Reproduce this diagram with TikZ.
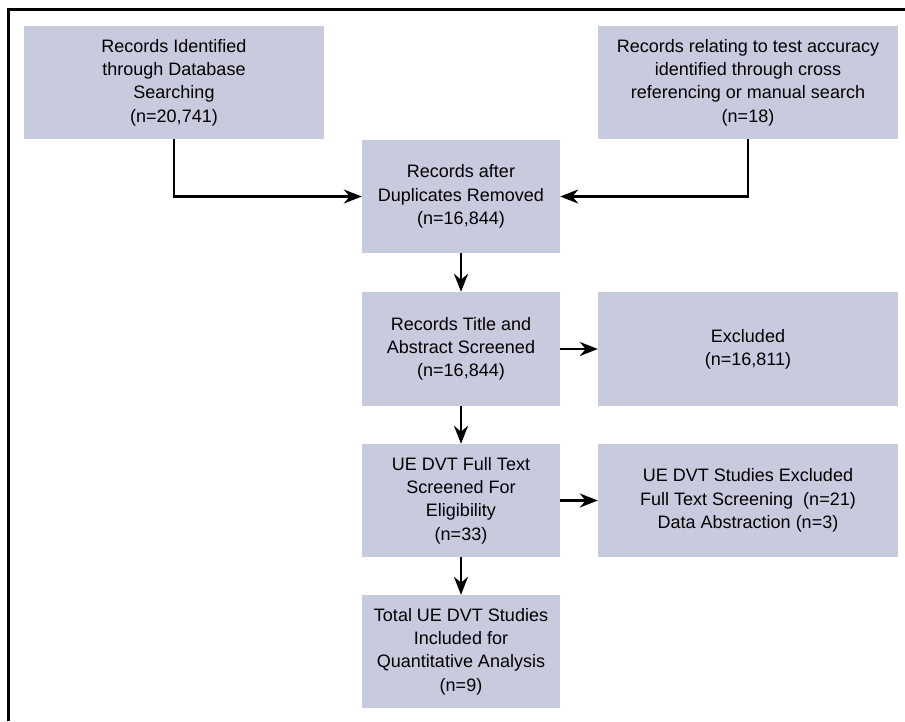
\documentclass[tikz,border=0pt]{standalone}
\usepackage{fontspec}
\setmainfont{Liberation Sans}
\usetikzlibrary{arrows.meta}
\definecolor{boxfill}{RGB}{200,202,222}
\begin{document}
\begin{tikzpicture}[x=1pt,y=-1pt,
  box/.style={fill=boxfill, draw=none, align=center, inner sep=0pt,
    font=\fontsize{18}{23.3}\selectfont, text=black},
  conn/.style={line width=2.5pt, -{Stealth[length=18pt,width=14pt]}},
  frame/.style={line width=3pt}]
\useasboundingbox (0,0) rectangle (905,721);
\draw[frame] (8,721) -- (8,9) -- (905,9);
\node[box, minimum width=300pt, minimum height=113pt] (db) at (174,82.5)
  {Records Identified\\through Database\\Searching\\(n=20,741)};
\node[box, minimum width=300pt, minimum height=113pt] (cr) at (748,82.5)
  {Records relating to test accuracy\\identified through cross\\referencing or manual search\\(n=18)};
\node[box, minimum width=198pt, minimum height=113pt] (dup) at (461,196.5)
  {Records after\\Duplicates Removed\\(n=16,844)};
\node[box, minimum width=198pt, minimum height=114pt] (ta) at (461,349)
  {Records Title and\\Abstract Screened\\(n=16,844)};
\node[box, minimum width=300pt, minimum height=114pt] (ex1) at (748,349)
  {Excluded\\(n=16,811)};
\node[box, minimum width=198pt, minimum height=113pt] (ft) at (461,500.5)
  {UE DVT Full Text\\Screened For\\Eligibility\\(n=33)};
\node[box, minimum width=300pt, minimum height=113pt] (ex2) at (748,500.5)
  {UE DVT Studies Excluded\\Full Text Screening\ \ (n=21)\\Data Abstraction (n=3)};
\node[box, minimum width=198pt, minimum height=113pt] (tot) at (461,651.5)
  {Total UE DVT Studies\\Included for\\Quantitative Analysis\\(n=9)};
\draw[conn] (db.south) |- (dup.west);
\draw[conn] (cr.south) |- (dup.east);
\draw[conn] (dup) -- (ta);
\draw[conn] (ta) -- (ex1);
\draw[conn] (ta) -- (ft);
\draw[conn] (ft) -- (ex2);
\draw[conn] (ft) -- (tot);
\end{tikzpicture}
\end{document}
